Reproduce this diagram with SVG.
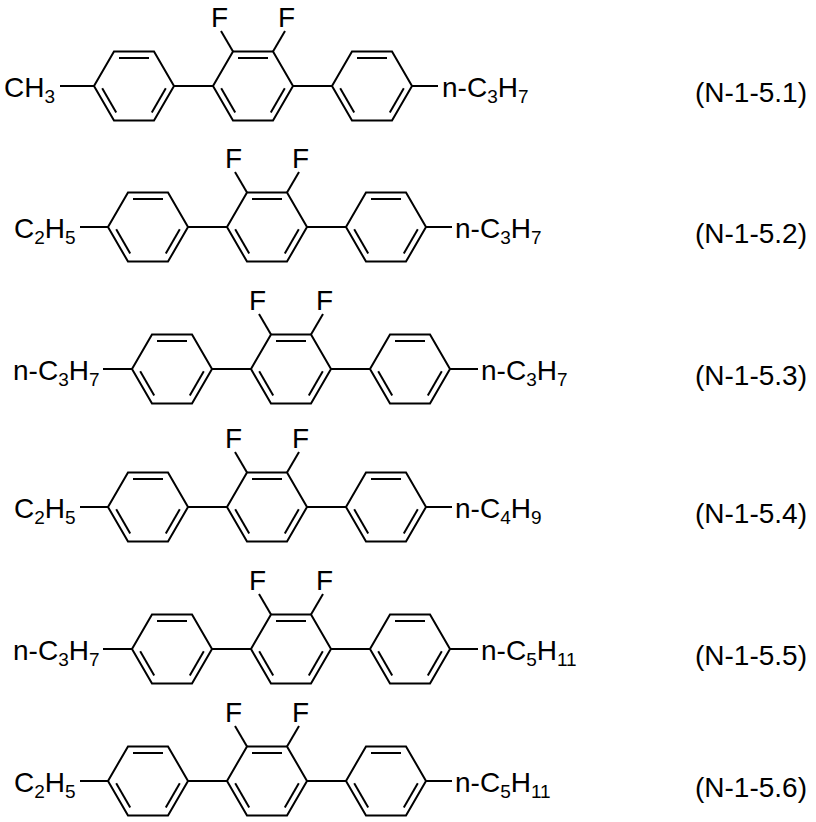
<svg xmlns="http://www.w3.org/2000/svg" xmlns:xlink="http://www.w3.org/1999/xlink" width="816" height="822" viewBox="0 0 816 822">
<style>
line,polygon{stroke:#000;stroke-width:2;fill:none}
text{font-family:"Liberation Sans",Arial,sans-serif;font-size:28px;fill:#000}
.s{font-size:19px}
.lbl{font-size:28px}
</style>
<defs>
<g id="ring">
<polygon points="-40,0 -20,-34.6 20,-34.6 40,0 20,34.6 -20,34.6"/>
<line x1="-15" y1="-28" x2="15" y2="-28"/>
<line x1="-31.8" y1="2.2" x2="-17.8" y2="26.4"/>
<line x1="31.8" y1="2.2" x2="17.8" y2="26.4"/>
</g>
<g id="core">
<use xlink:href="#ring" x="0"/>
<line x1="40" y1="0" x2="79" y2="0"/>
<use xlink:href="#ring" x="119"/>
<line x1="159" y1="0" x2="198" y2="0"/>
<use xlink:href="#ring" x="238"/>
<line x1="99" y1="-34.6" x2="87" y2="-55"/>
<line x1="139" y1="-34.6" x2="151" y2="-55"/>
<text x="77" y="-59">F</text>
<text x="144" y="-59">F</text>
</g>
</defs>
<g id="connectors"></g>
<g id="m1">
<use xlink:href="#core" x="134" y="86"/>
<line x1="60" y1="86" x2="94" y2="86"/><line x1="412" y1="86" x2="438" y2="86"/>
<text x="4" y="97">CH<tspan class="s" dy="6">3</tspan></text>
<text x="442" y="97">n-C<tspan class="s" dy="6">3</tspan><tspan dy="-6">H</tspan><tspan class="s" dy="6">7</tspan></text>
<text class="lbl" x="695" y="102">(N-1-5.1)</text>
</g>
<g id="m2">
<use xlink:href="#core" x="148" y="227"/>
<line x1="80" y1="227" x2="108" y2="227"/><line x1="426" y1="227" x2="452" y2="227"/>
<text x="14" y="238">C<tspan class="s" dy="6">2</tspan><tspan dy="-6">H</tspan><tspan class="s" dy="6">5</tspan></text>
<text x="455" y="238">n-C<tspan class="s" dy="6">3</tspan><tspan dy="-6">H</tspan><tspan class="s" dy="6">7</tspan></text>
<text class="lbl" x="695" y="243">(N-1-5.2)</text>
</g>
<g id="m3">
<use xlink:href="#core" x="172" y="369"/>
<line x1="103" y1="369" x2="132" y2="369"/><line x1="450" y1="369" x2="478" y2="369"/>
<text x="13" y="380">n-C<tspan class="s" dy="6">3</tspan><tspan dy="-6">H</tspan><tspan class="s" dy="6">7</tspan></text>
<text x="481" y="380">n-C<tspan class="s" dy="6">3</tspan><tspan dy="-6">H</tspan><tspan class="s" dy="6">7</tspan></text>
<text class="lbl" x="695" y="385">(N-1-5.3)</text>
</g>
<g id="m4">
<use xlink:href="#core" x="148" y="507"/>
<line x1="80" y1="507" x2="108" y2="507"/><line x1="426" y1="507" x2="452" y2="507"/>
<text x="14" y="518">C<tspan class="s" dy="6">2</tspan><tspan dy="-6">H</tspan><tspan class="s" dy="6">5</tspan></text>
<text x="455" y="518">n-C<tspan class="s" dy="6">4</tspan><tspan dy="-6">H</tspan><tspan class="s" dy="6">9</tspan></text>
<text class="lbl" x="695" y="523">(N-1-5.4)</text>
</g>
<g id="m5">
<use xlink:href="#core" x="172" y="649"/>
<line x1="103" y1="649" x2="132" y2="649"/><line x1="450" y1="649" x2="478" y2="649"/>
<text x="13" y="660">n-C<tspan class="s" dy="6">3</tspan><tspan dy="-6">H</tspan><tspan class="s" dy="6">7</tspan></text>
<text x="481" y="660">n-C<tspan class="s" dy="6">5</tspan><tspan dy="-6">H</tspan><tspan class="s" dy="6">11</tspan></text>
<text class="lbl" x="695" y="665">(N-1-5.5)</text>
</g>
<g id="m6">
<use xlink:href="#core" x="148" y="781"/>
<line x1="80" y1="781" x2="108" y2="781"/><line x1="426" y1="781" x2="452" y2="781"/>
<text x="14" y="792">C<tspan class="s" dy="6">2</tspan><tspan dy="-6">H</tspan><tspan class="s" dy="6">5</tspan></text>
<text x="455" y="792">n-C<tspan class="s" dy="6">5</tspan><tspan dy="-6">H</tspan><tspan class="s" dy="6">11</tspan></text>
<text class="lbl" x="695" y="797">(N-1-5.6)</text>
</g>
</svg>
